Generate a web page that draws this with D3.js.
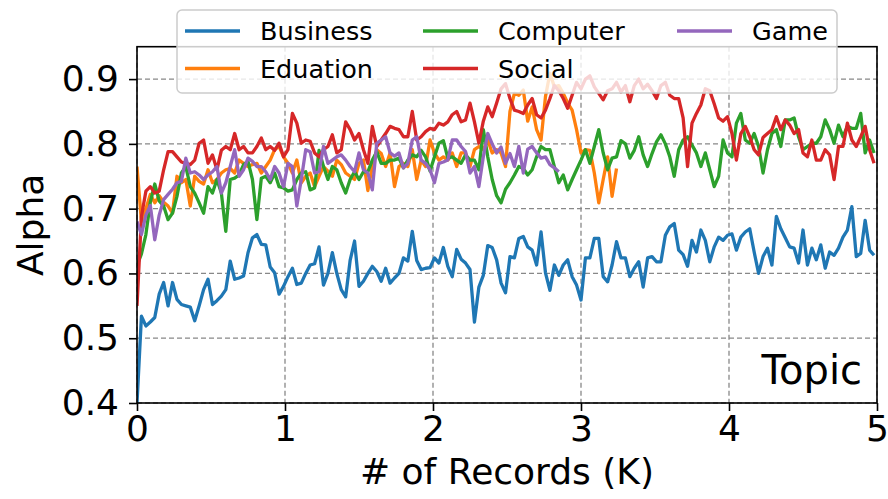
<!DOCTYPE html>
<html>
<head>
<meta charset="utf-8">
<script src="https://cdn.jsdelivr.net/npm/d3@7"></script>
<style>
  html, body { margin: 0; padding: 0; background: #fff; }
  svg { display: block; font-family: "DejaVu Sans", sans-serif; }
</style>
</head>
<body>
<svg id="chart" width="888" height="499"></svg>
<script>
// Alpha measured every 30 records (0.03 K) per topic
const stepK = 0.03;

const business = [
  0.400, 0.534, 0.519, 0.525, 0.532, 0.568, 0.586, 0.550, 0.586, 0.560,
  0.552, 0.550, 0.548, 0.527, 0.550, 0.575, 0.591, 0.552, 0.558, 0.565,
  0.575, 0.619, 0.591, 0.593, 0.596, 0.632, 0.655, 0.660, 0.645, 0.644,
  0.610, 0.601, 0.568, 0.580, 0.595, 0.608, 0.583, 0.585, 0.600, 0.613,
  0.615, 0.641, 0.582, 0.600, 0.632, 0.600, 0.575, 0.564, 0.620, 0.650,
  0.580, 0.588, 0.600, 0.611, 0.603, 0.588, 0.608, 0.585, 0.593, 0.600,
  0.624, 0.619, 0.665, 0.620, 0.606, 0.608, 0.609, 0.624, 0.616, 0.640,
  0.611, 0.595, 0.637, 0.622, 0.616, 0.606, 0.525, 0.579, 0.597, 0.643,
  0.640, 0.621, 0.585, 0.570, 0.626, 0.624, 0.654, 0.657, 0.641, 0.636,
  0.613, 0.664, 0.601, 0.574, 0.613, 0.597, 0.613, 0.621, 0.595, 0.582,
  0.559, 0.624, 0.624, 0.654, 0.654, 0.595, 0.587, 0.613, 0.649, 0.624,
  0.624, 0.595, 0.608, 0.618, 0.579, 0.624, 0.626, 0.618, 0.618, 0.659,
  0.672, 0.677, 0.636, 0.629, 0.611, 0.651, 0.633, 0.667, 0.651, 0.618,
  0.641, 0.656, 0.651, 0.659, 0.661, 0.636, 0.656, 0.664, 0.669, 0.633,
  0.600, 0.626, 0.639, 0.613, 0.688, 0.669, 0.655, 0.641, 0.639, 0.616,
  0.667, 0.613, 0.639, 0.621, 0.644, 0.608, 0.633, 0.628, 0.639, 0.656,
  0.667, 0.703, 0.626, 0.631, 0.682, 0.636, 0.628
];

const education = [
  0.765, 0.680, 0.700, 0.722, 0.709, 0.720, 0.710, 0.704, 0.693, 0.750,
  0.740, 0.745, 0.704, 0.750, 0.742, 0.738, 0.760, 0.740, 0.745, 0.755,
  0.760, 0.762, 0.755, 0.775, 0.770, 0.765, 0.768, 0.770, 0.755, 0.765,
  0.775, 0.791, 0.796, 0.780, 0.770, 0.755, 0.775, 0.740, 0.750, 0.755,
  0.734, 0.750, 0.765, 0.758, 0.750, 0.775, 0.768, 0.755, 0.750, 0.745,
  0.770, 0.775, 0.728, 0.765, 0.791, 0.785, 0.765, 0.786, 0.734, 0.765,
  0.770, 0.765, 0.791, 0.745, 0.775, 0.765, 0.806, 0.786, 0.775, 0.780,
  0.775, 0.786, 0.765, 0.786, 0.786, 0.765, 0.791, 0.796, 0.791, 0.806,
  0.786, 0.791, 0.786, 0.765, 0.850, 0.878, 0.875, 0.883, 0.835, 0.857,
  0.822, 0.806, 0.873, 0.909, 0.888, 0.890, 0.878, 0.863, 0.852, 0.822,
  0.786, 0.791, 0.790, 0.755, 0.709, 0.745, 0.780, 0.719, 0.762
];

const computer = [
  0.612, 0.630, 0.660, 0.710, 0.738, 0.712, 0.704, 0.683, 0.693, 0.719,
  0.755, 0.765, 0.734, 0.724, 0.709, 0.693, 0.734, 0.724, 0.745, 0.724,
  0.665, 0.745, 0.747, 0.752, 0.768, 0.773, 0.745, 0.683, 0.747, 0.750,
  0.740, 0.755, 0.734, 0.732, 0.727, 0.729, 0.745, 0.755, 0.757, 0.729,
  0.732, 0.790, 0.765, 0.745, 0.765, 0.760, 0.740, 0.724, 0.745, 0.757,
  0.745, 0.757, 0.757, 0.775, 0.788, 0.770, 0.770, 0.775, 0.775, 0.778,
  0.763, 0.775, 0.783, 0.780, 0.790, 0.780, 0.758, 0.780, 0.801, 0.805,
  0.778, 0.780, 0.775, 0.770, 0.783, 0.775, 0.775, 0.760, 0.822, 0.780,
  0.745, 0.720, 0.709, 0.730, 0.740, 0.752, 0.765, 0.762, 0.752, 0.760,
  0.780, 0.796, 0.791, 0.791, 0.765, 0.740, 0.752, 0.729, 0.745, 0.760,
  0.775, 0.791, 0.770, 0.796, 0.822, 0.786, 0.760, 0.778, 0.780, 0.805,
  0.800, 0.778, 0.790, 0.811, 0.783, 0.765, 0.785, 0.803, 0.814, 0.800,
  0.780, 0.750, 0.791, 0.806, 0.811, 0.798, 0.786, 0.765, 0.786, 0.760,
  0.734, 0.750, 0.806, 0.786, 0.780, 0.832, 0.847, 0.806, 0.801, 0.816,
  0.796, 0.755, 0.791, 0.816, 0.822, 0.796, 0.837, 0.837, 0.840, 0.811,
  0.791, 0.796, 0.801, 0.801, 0.811, 0.837, 0.822, 0.801, 0.829, 0.811,
  0.827, 0.824, 0.824, 0.847, 0.786, 0.806, 0.786
];

const social = [
  0.550, 0.688, 0.727, 0.734, 0.724, 0.727, 0.760, 0.788, 0.788, 0.780,
  0.772, 0.770, 0.768, 0.775, 0.801, 0.806, 0.770, 0.783, 0.760, 0.790,
  0.796, 0.791, 0.816, 0.791, 0.796, 0.786, 0.786, 0.796, 0.809, 0.791,
  0.796, 0.790, 0.801, 0.780, 0.791, 0.847, 0.832, 0.801, 0.806, 0.804,
  0.786, 0.780, 0.791, 0.796, 0.814, 0.786, 0.791, 0.834, 0.822, 0.806,
  0.816, 0.791, 0.770, 0.827, 0.796, 0.806, 0.816, 0.827, 0.824, 0.822,
  0.811, 0.811, 0.850, 0.806, 0.811, 0.819, 0.824, 0.822, 0.832, 0.829,
  0.834, 0.845, 0.850, 0.834, 0.837, 0.863, 0.834, 0.801, 0.835, 0.857,
  0.842, 0.863, 0.885, 0.893, 0.870, 0.852, 0.850, 0.847, 0.860, 0.870,
  0.845, 0.840, 0.852, 0.870, 0.890, 0.882, 0.870, 0.855, 0.875, 0.895,
  0.885, 0.900, 0.905, 0.888, 0.878, 0.868, 0.882, 0.885, 0.895, 0.880,
  0.890, 0.865, 0.890, 0.900, 0.885, 0.892, 0.882, 0.870, 0.890, 0.895,
  0.875, 0.870, 0.870, 0.840, 0.765, 0.832, 0.847, 0.860, 0.885, 0.882,
  0.862, 0.840, 0.835, 0.842, 0.816, 0.775, 0.816, 0.827, 0.811, 0.791,
  0.783, 0.810, 0.816, 0.822, 0.842, 0.822, 0.837, 0.829, 0.816, 0.822,
  0.786, 0.780, 0.806, 0.775, 0.775, 0.791, 0.783, 0.745, 0.796, 0.796,
  0.832, 0.806, 0.796, 0.811, 0.827, 0.791, 0.770
];

const game = [
  0.680, 0.660, 0.690, 0.705, 0.652, 0.690, 0.714, 0.722, 0.730, 0.740,
  0.742, 0.778, 0.755, 0.757, 0.752, 0.745, 0.752, 0.757, 0.765, 0.724,
  0.740, 0.765, 0.791, 0.750, 0.760, 0.778, 0.773, 0.765, 0.765, 0.757,
  0.745, 0.765, 0.755, 0.734, 0.770, 0.765, 0.704, 0.745, 0.791, 0.788,
  0.755, 0.757, 0.796, 0.770, 0.775, 0.780, 0.783, 0.775, 0.765, 0.757,
  0.786, 0.760, 0.755, 0.729, 0.801, 0.806, 0.811, 0.786, 0.781, 0.786,
  0.763, 0.770, 0.806, 0.811, 0.775, 0.770, 0.760, 0.740, 0.770, 0.772,
  0.775, 0.806, 0.806, 0.796, 0.788, 0.755, 0.765, 0.734, 0.780, 0.816,
  0.800, 0.786, 0.795, 0.770, 0.785, 0.765, 0.796, 0.755, 0.792, 0.796,
  0.786, 0.778, 0.780, 0.768, 0.763, 0.757
];

const seriesNames  = ["Business", "Eduation", "Computer", "Social", "Game"];
const seriesValues = [business, education, computer, social, game];
const seriesColors = ["#1f77b4", "#ff7f0e", "#2ca02c", "#d62728", "#9467bd"];

const xTicks = [0, 1, 2, 3, 4, 5];
const yTicks = [0.4, 0.5, 0.6, 0.7, 0.8, 0.9];
const xDomain = [0, 5];
const yDomain = [0.4, 0.95];

const xLabel = "# of Records (K)";
const yLabel = "Alpha";
const panelTag = "Topic";

// ---- layout ----
const plot = { left: 137, right: 877, top: 46.7, bottom: 403 };

const svg = d3.select("#chart");

const x = d3.scaleLinear().domain(xDomain).range([plot.left, plot.right]);
const y = d3.scaleLinear().domain(yDomain).range([plot.bottom, plot.top]);

svg.append("defs").append("clipPath").attr("id", "plot-clip")
  .append("rect")
  .attr("x", plot.left).attr("y", plot.top)
  .attr("width", plot.right - plot.left).attr("height", plot.bottom - plot.top);

// dashed grid
const grid = svg.append("g").attr("class", "grid")
  .attr("stroke", "#888888").attr("stroke-width", 1.3)
  .attr("stroke-dasharray", "5,3");
grid.selectAll("line.gx").data(xTicks).join("line").attr("class", "gx")
  .attr("x1", d => x(d)).attr("x2", d => x(d))
  .attr("y1", plot.top).attr("y2", plot.bottom);
grid.selectAll("line.gy").data(yTicks).join("line").attr("class", "gy")
  .attr("x1", plot.left).attr("x2", plot.right)
  .attr("y1", d => y(d)).attr("y2", d => y(d));

// series lines
const line = d3.line()
  .x((d, i) => x(i * stepK))
  .y(d => y(d));

const lines = svg.append("g").attr("clip-path", "url(#plot-clip)");
seriesValues.forEach((vals, k) => {
  lines.append("path")
    .datum(vals)
    .attr("d", line)
    .attr("fill", "none")
    .attr("stroke", seriesColors[k])
    .attr("stroke-width", 3.3)
    .attr("stroke-linejoin", "round")
    .attr("stroke-linecap", "butt");
});

// frame
svg.append("rect")
  .attr("x", plot.left).attr("y", plot.top)
  .attr("width", plot.right - plot.left).attr("height", plot.bottom - plot.top)
  .attr("fill", "none").attr("stroke", "#000").attr("stroke-width", 1.6);

// axes
const fontSize = 36;
const xAxis = d3.axisBottom(x).tickValues(xTicks).tickFormat(d3.format("d"))
  .tickSize(8).tickPadding(4);
const yAxis = d3.axisLeft(y).tickValues(yTicks).tickFormat(d3.format(".1f"))
  .tickSize(8).tickPadding(10);

const gx = svg.append("g").attr("transform", `translate(0,${plot.bottom})`).call(xAxis);
const gy = svg.append("g").attr("transform", `translate(${plot.left},0)`).call(yAxis);
[gx, gy].forEach(g => {
  g.select(".domain").remove();
  g.selectAll(".tick line").attr("stroke", "#000").attr("stroke-width", 1.6);
  g.selectAll(".tick text")
    .attr("fill", "#000")
    .style("font-family", "'DejaVu Sans', sans-serif")
    .style("font-size", fontSize + "px");
});

// axis titles
svg.append("text")
  .attr("x", (plot.left + plot.right) / 2).attr("y", 484)
  .attr("text-anchor", "middle")
  .style("font-size", fontSize + "px")
  .text(xLabel);

svg.append("text")
  .attr("transform", `translate(43,${(plot.top + plot.bottom) / 2}) rotate(-90)`)
  .attr("text-anchor", "middle")
  .style("font-size", fontSize + "px")
  .text(yLabel);

// panel tag
svg.append("text")
  .attr("x", 862).attr("y", 384)
  .attr("text-anchor", "end")
  .style("font-size", "40px")
  .text(panelTag);

// legend (3 columns, filled column by column)
const legend = svg.append("g");
legend.append("rect")
  .attr("x", 177).attr("y", 10).attr("width", 660).attr("height", 83)
  .attr("rx", 5).attr("ry", 5)
  .attr("fill", "#fff").attr("fill-opacity", 0.8)
  .attr("stroke", "#cccccc").attr("stroke-width", 1.5);

const colX = [185, 423, 677];
const rowY = [31, 68.5];
const nrow = 2;
seriesNames.forEach((name, k) => {
  const c = Math.floor(k / nrow), r = k % nrow;
  const lx = colX[c], ly = rowY[r];
  legend.append("line")
    .attr("x1", lx).attr("x2", lx + 55)
    .attr("y1", ly).attr("y2", ly)
    .attr("stroke", seriesColors[k]).attr("stroke-width", 3.3);
  legend.append("text")
    .attr("x", lx + 75).attr("y", ly)
    .attr("dy", "0.36em")
    .style("font-size", "25.5px")
    .text(name);
});
</script>
</body>
</html>
